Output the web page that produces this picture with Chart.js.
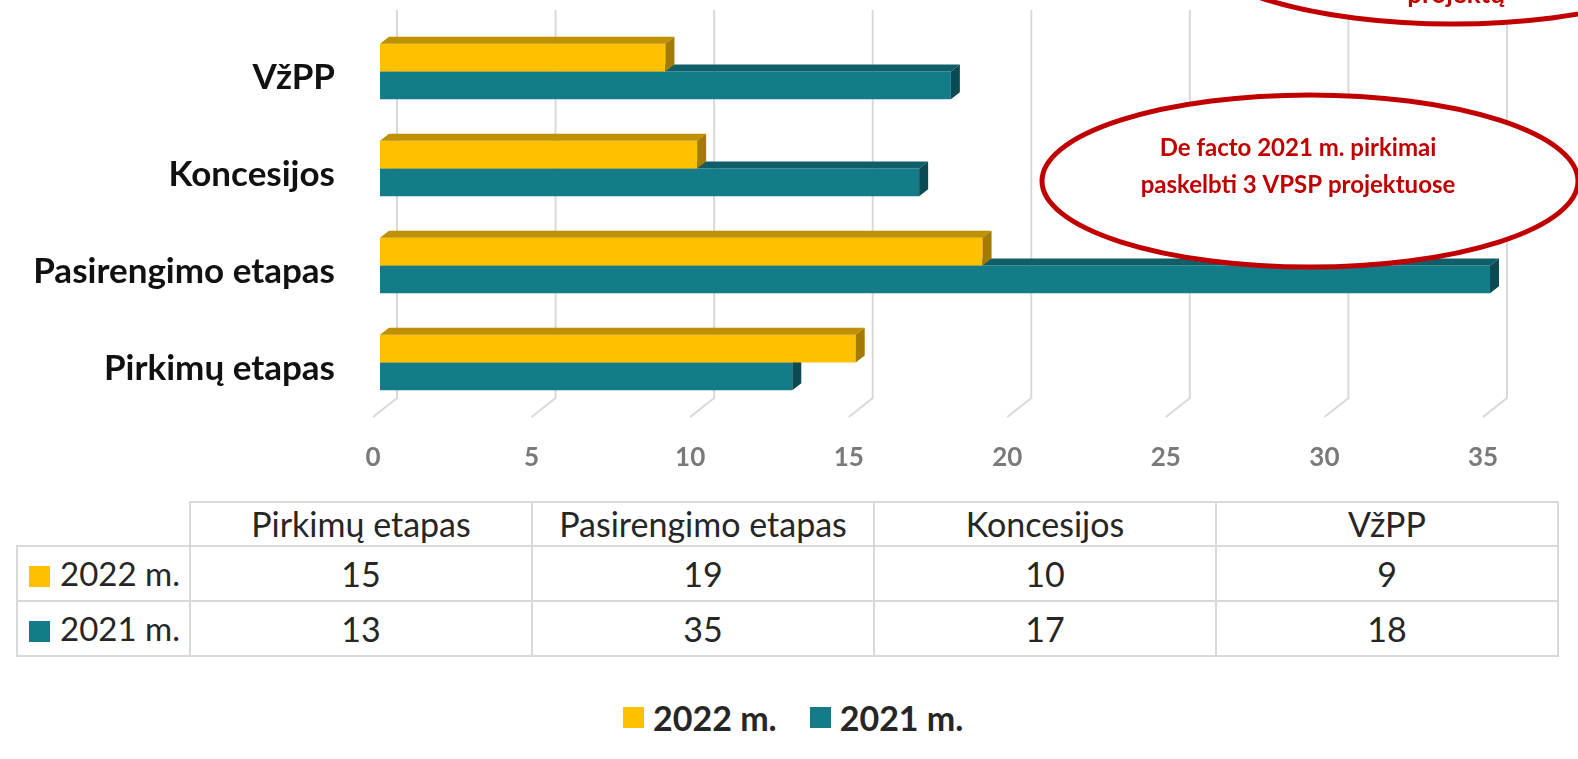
<!DOCTYPE html>
<html>
<head>
<meta charset="utf-8">
<script src="https://cdn.jsdelivr.net/npm/chart.js@4.4.1/dist/chart.umd.min.js"></script>
<style>
  body { margin: 0; background: #fff; width: 1578px; height: 759px; overflow: hidden; position: relative; font-family: Lato, "Open Sans", sans-serif; }
  #chartBox { position: absolute; left: 0; top: 0; width: 1578px; height: 480px; }
  table { position: absolute; left: 16px; top: 501px; border-collapse: collapse; table-layout: fixed; }
  td { border: 2px solid #d9d9d9; text-align: center; font-size: 34px; color: #262626; padding: 0; white-space: nowrap; line-height: 1; }
  tr.head td { height: 42px; }
  tr.row td { height: 53px; }
  td.corner { border-top: none; border-left: none; }
  td.name { text-align: left; padding-left: 11px; font-size: 33px; }
  .sw { display: inline-block; width: 21px; height: 21px; margin-right: 10px; vertical-align: -1px; }
  #legend { position: absolute; left: 623px; top: 697px; display: flex; font-weight: bold; font-size: 34px; color: #262626; }
  #legend span.item { display: flex; align-items: center; margin-right: 33px; }
  #legend .sw { margin-right: 9px; vertical-align: 0; }
</style>
</head>
<body>
<div id="chartBox"><canvas id="chart"></canvas></div>
<table id="dataTable"></table>
<div id="legend"></div>
<script>
const categories = ["Pirkimų etapas", "Pasirengimo etapas", "Koncesijos", "VžPP"];
const values2022 = [15, 19, 10, 9];
const values2021 = [13, 35, 17, 18];
const seriesNames = ["2022 m.", "2021 m."];
const xTicks = [0, 5, 10, 15, 20, 25, 30, 35];

const note = ["De facto 2021 m. pirkimai", "paskelbti 3 VPSP projektuose"];
const noteAbove = ["projektų"];

// Colours
const yellow = "#FFC000";
const teal = "#147B89";
const faces = [
  { top: "#BF9000", side: "#A37B00" },
  { top: "#0F5E69", side: "#0B4A53" }
];
const red = "#C00000";

// Depth of the 3D bars
const dx = 9, dy = -7;

// Bars in the chart go top to bottom, the table goes the other way
const rev = a => a.slice().reverse();

const grid3d = {
  id: "grid3d",
  beforeDatasetsDraw(chart) {
    const {ctx, scales: {x}} = chart;
    ctx.save();
    ctx.strokeStyle = "#d9d9d9";
    ctx.lineWidth = 2;
    xTicks.forEach(v => {
      const px = x.getPixelForValue(v);
      ctx.beginPath();
      ctx.moveTo(px + 17, 10);
      ctx.lineTo(px + 17, 398);
      ctx.lineTo(px - 7, 417);
      ctx.stroke();
    });
    ctx.restore();
  },
  afterDatasetDraw(chart, args) {
    const ctx = chart.ctx;
    const f = faces[args.index];
    ctx.save();
    args.meta.data.forEach(bar => {
      const {x, y, base, height} = bar.getProps(["x", "y", "base", "height"], true);
      const top = y - height / 2, bottom = y + height / 2;
      ctx.fillStyle = f.top;
      ctx.beginPath();
      ctx.moveTo(base, top);
      ctx.lineTo(base + dx, top + dy);
      ctx.lineTo(x + dx, top + dy);
      ctx.lineTo(x, top);
      ctx.closePath();
      ctx.fill();
      ctx.fillStyle = f.side;
      ctx.beginPath();
      ctx.moveTo(x, top);
      ctx.lineTo(x + dx, top + dy);
      ctx.lineTo(x + dx, bottom + dy);
      ctx.lineTo(x, bottom);
      ctx.closePath();
      ctx.fill();
    });
    ctx.restore();
  }
};

const callouts = {
  id: "callouts",
  afterDraw(chart) {
    const ctx = chart.ctx;
    ctx.save();
    ctx.lineWidth = 5;
    ctx.strokeStyle = red;
    ctx.fillStyle = "#fff";
    [[1453, -62], [1310, 181]].forEach(([cx, cy]) => {
      ctx.beginPath();
      ctx.ellipse(cx, cy, 268, 86, 0, 0, Math.PI * 2);
      ctx.fill();
      ctx.stroke();
    });
    ctx.fillStyle = red;
    ctx.font = "bold 24px Lato";
    ctx.textAlign = "center";
    ctx.textBaseline = "middle";
    ctx.fillText(note[0], 1298, 148);
    ctx.fillText(note[1], 1298, 185);
    ctx.textBaseline = "alphabetic";
    ctx.font = "bold 26px Lato";
    ctx.fillText(noteAbove[0], 1456, 3);
    ctx.restore();
  }
};

new Chart(document.getElementById("chart"), {
  type: "bar",
  data: {
    labels: rev(categories),
    datasets: [
      { label: seriesNames[0], data: rev(values2022), backgroundColor: yellow },
      { label: seriesNames[1], data: rev(values2021), backgroundColor: teal }
    ]
  },
  options: {
    indexAxis: "y",
    responsive: true,
    maintainAspectRatio: false,
    animation: false,
    layout: { padding: { top: 23, right: 88, left: 0, bottom: 0 } },
    datasets: { bar: { categoryPercentage: 0.573, barPercentage: 1 } },
    plugins: { legend: { display: false }, tooltip: { enabled: false } },
    scales: {
      x: {
        min: 0,
        max: 35,
        afterBuildTicks: scale => { scale.ticks = xTicks.map(value => ({ value })); },
        afterFit: scale => { scale.height = 69; },
        grid: { display: false },
        border: { display: false },
        ticks: {
          padding: 23,
          labelOffset: -7,
          color: "#7a7a7a",
          font: { family: "Lato", weight: "bold", size: 26 }
        }
      },
      y: {
        afterFit: scale => {
          scale.width = 380;
          // keep the label padding from pushing the plot down
          scale.paddingTop = 0;
          scale.paddingBottom = 0;
        },
        grid: { display: false },
        border: { display: false },
        ticks: {
          padding: 37,
          labelOffset: 6,
          color: "#111",
          font: { family: "Lato", weight: "bold", size: 35 }
        }
      }
    }
  },
  plugins: [grid3d, callouts]
});

// Data table under the chart
const colors = [yellow, teal];
const seriesValues = [values2022, values2021];
const table = document.getElementById("dataTable");
let html = '<colgroup><col style="width:173px">' + categories.map(() => '<col style="width:342px">').join("") + "</colgroup>";
html += '<tr class="head"><td class="corner"></td>' + categories.map(c => "<td>" + c + "</td>").join("") + "</tr>";
seriesNames.forEach((name, i) => {
  html += '<tr class="row"><td class="name"><span class="sw" style="background:' + colors[i] + '"></span>' + name + "</td>" +
    seriesValues[i].map(v => "<td>" + v + "</td>").join("") + "</tr>";
});
table.innerHTML = html;

// Legend at the bottom
document.getElementById("legend").innerHTML = seriesNames.map((name, i) =>
  '<span class="item"><span class="sw" style="background:' + colors[i] + '"></span>' + name + "</span>").join("");
</script>
</body>
</html>
